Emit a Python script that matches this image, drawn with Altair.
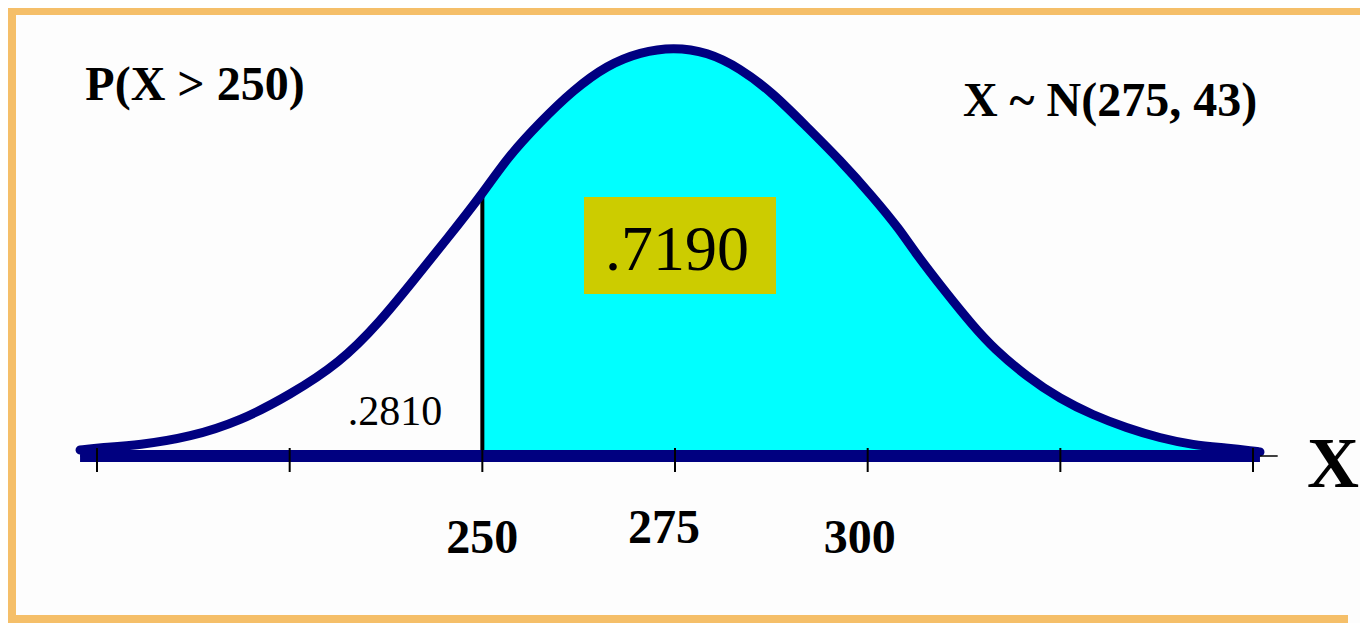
import altair as alt
import pandas as pd

# ---- data ----
CURVE_X = [197.8, 200, 205.6, 212.1, 218.6, 225, 231.5, 236.7, 241, 245.4, 250, 253.2,
           257.5, 261.8, 266.2, 270.5, 274.8, 279.2, 283.4, 287.7, 292.1, 296.4, 300.7,
           304.2, 305.9, 310.3, 313.7, 316.3, 320.7, 325, 329.2, 333.6, 337.9, 342.2,
           346.6, 350, 350.9]
CURVE_H = [6, 8, 11, 19, 35, 61, 93, 134, 175, 217, 262, 298,
           334, 366, 391, 404, 409, 404, 388, 363, 329, 296, 259,
           226, 206, 162, 130, 108, 79, 57, 41, 28, 18, 11,
           8, 5, 4]
TICK_VALUES = [200, 225, 250, 275, 300, 325, 350]
LABEL_VALUES = [250, 275, 300]
CUTOFF = 250
AXIS_END = 353.2
TITLE_LEFT = ["P(X > 250)"]
TITLE_RIGHT = ["X ~ N(275, 43)"]
PROB_LEFT = [".2810"]
PROB_RIGHT = [".7190"]
AXIS_TITLE = ["X"]

# ---- layout / style ----
W, H = 1352, 615
NAVY = "#000080"
CYAN = "#00FFFF"
ORANGE = "#F5BF69"
OLIVE = "#CCCC00"
SERIF = "Liberation Serif"

curve = pd.DataFrame({"x": CURVE_X, "h": CURVE_H})
right = curve[curve["x"] >= CUTOFF]
cut_h = float(curve.loc[curve["x"] == CUTOFF, "h"].iloc[0])

xs = alt.Scale(domain=[188.451, 363.881], nice=False, zero=False)
ys = alt.Scale(domain=[-167, 448], nice=False, zero=False)
X = lambda f="x": alt.X(f"{f}:Q", scale=xs, axis=None)
Y = lambda f="h": alt.Y(f"{f}:Q", scale=ys, axis=None)
one = pd.DataFrame({"a": [0]})

def hframe(x, x2, y):
    return alt.Chart(one).mark_rule(color=ORANGE, strokeWidth=8).encode(
        x=alt.value(x), x2=alt.value(x2), y=alt.value(y))

def vframe(x, y, y2):
    return alt.Chart(one).mark_rule(color=ORANGE, strokeWidth=8).encode(
        x=alt.value(x), y=alt.value(y), y2=alt.value(y2))

# left, top and bottom sides (the right side is cut off in the picture)
border = [hframe(0, W, 3), vframe(4, 0, 615), hframe(0, W - 12, 611)]

area = alt.Chart(right).mark_area(color=CYAN, interpolate="basis").encode(
    x=X(), y=Y(), y2=alt.datum(0))

cut = alt.Chart(pd.DataFrame({"x": [CUTOFF], "h": [cut_h]})).mark_rule(
    color="black", strokeWidth=4).encode(x=X(), y=Y(), y2=alt.datum(0))

line = alt.Chart(curve).mark_line(color=NAVY, strokeWidth=9, interpolate="basis",
                                  strokeCap="round").encode(x=X(), y=Y())

axis_line = alt.Chart(pd.DataFrame({"x": [CURVE_X[0]], "x2": [AXIS_END], "h": [0]})).mark_rule(
    color="black", strokeWidth=1.5).encode(x=X(), x2="x2:Q", y=Y())

band = alt.Chart(pd.DataFrame({"x": [CURVE_X[0]], "x2": [CURVE_X[-1]], "h": [0]})).mark_rule(
    color=NAVY, strokeWidth=12).encode(x=X(), x2="x2:Q", y=Y())

ticks = alt.Chart(pd.DataFrame({"x": TICK_VALUES})).mark_rule(
    color="black", strokeWidth=2).encode(x=X(), y=alt.value(440), y2=alt.value(464))

def label(v, dx, y):
    return alt.Chart(pd.DataFrame({"x": [v], "t": [str(v)]})).mark_text(
        font=SERIF, fontSize=48, fontWeight="bold", color="black", dx=dx,
        baseline="alphabetic", align="center").encode(x=X(), y=alt.value(y), text="t:N")

labels = [label(LABEL_VALUES[0], 0, 545), label(LABEL_VALUES[1], -11, 535),
          label(LABEL_VALUES[2], -8, 545)]

def txt(s, x, y, size, weight="normal"):
    return alt.Chart(pd.DataFrame({"t": s})).mark_text(
        font=SERIF, fontSize=size, fontWeight=weight, color="black",
        baseline="alphabetic", align="center").encode(
        x=alt.value(x), y=alt.value(y), text="t:N")

box = alt.Chart(one).mark_rect(color=OLIVE).encode(
    x=alt.value(576), x2=alt.value(768), y=alt.value(189), y2=alt.value(286))

texts = [
    txt(TITLE_LEFT, 187, 92, 48, "bold"),
    txt(TITLE_RIGHT, 1102, 108, 48, "bold"),
    txt(PROB_LEFT, 387, 417, 42),
    txt(PROB_RIGHT, 669, 262, 64),
    txt(AXIS_TITLE, 1325, 479, 72, "bold"),
]

chart = alt.layer(*border, area, cut, line, axis_line, band, ticks, box, *labels, *texts).properties(
    width=W, height=H, padding=0, autosize=alt.AutoSizeParams(type="none"),
    background="#FDFDFD"
).configure_view(stroke=None)

chart.save("out.html", embed_options={"renderer": "svg", "actions": False})
